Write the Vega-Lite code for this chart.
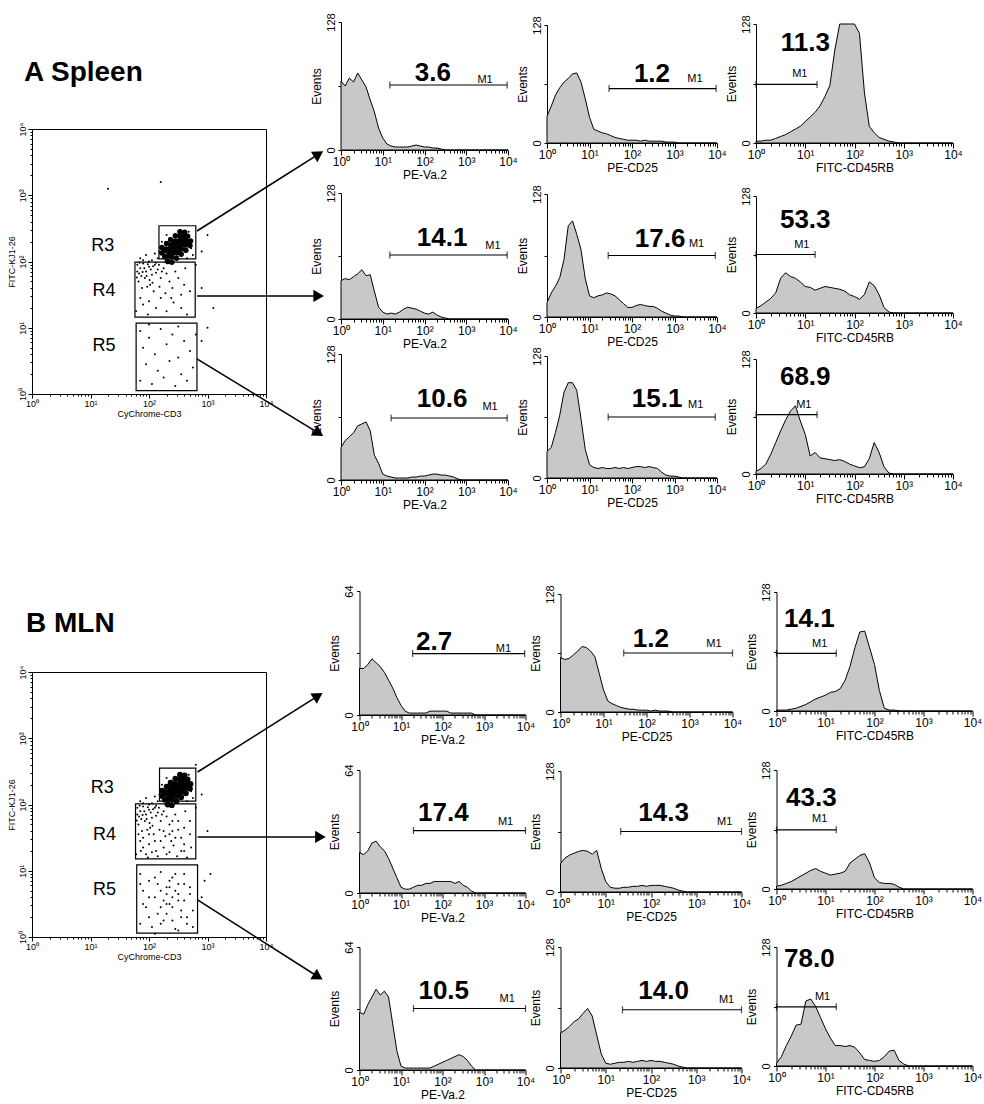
{
"$schema":"https://vega.github.io/schema/vega-lite/v6.json",
"background":"white",
"padding":{"left":6,"top":12,"right":0,"bottom":0},
"config":{"view":{"stroke":null},"font":"Liberation Sans","mark":{"color":"black"},
"axis":{"grid":false,"domainColor":"black","tickColor":"black","labelColor":"black","titleColor":"black","labelFont":"Liberation Sans","titleFont":"Liberation Sans","titleFontWeight":"normal","labelFlush":false,"domainWidth":1,"tickWidth":1},
"text":{"font":"Liberation Sans","color":"black"},"title":{"font":"Liberation Sans","color":"black"}},
"datasets":{
"hist":[
{"panel":"A11","lx":[0,0.1,0.2,0.3,0.4,0.5,0.6,0.7,0.8,0.9,1,1.1,1.2,1.3,1.4,1.5,1.6,1.7,1.8,1.9,2,2.1,2.2,2.3,2.4,2.5,2.6,2.7,2.8,2.9,3,3.1,3.2,3.3,3.4,3.5,3.6,3.7,3.8,3.9,4],"n":[69,64,72,68,77,70,63,50,38,22,12,6,4,3,3,3,3,4,5,4,3,3,2,2,1,0,0,0,0,0,0,0,0,0,0,0,0,0,0,0,0]},
{"panel":"A12","lx":[0,0.1,0.2,0.3,0.4,0.5,0.6,0.7,0.8,0.9,1,1.1,1.2,1.3,1.4,1.5,1.6,1.7,1.8,1.9,2,2.1,2.2,2.3,2.4,2.5,2.6,2.7,2.8,2.9,3,3.1,3.2,3.3,3.4,3.5,3.6,3.7,3.8,3.9,4],"n":[29,40,52,60,66,70,75,76,66,48,28,15,13,11,10,8,6,5,4,3,3,3,2,3,2,2,2,2,1,1,1,0,0,0,0,0,0,0,0,0,0]},
{"panel":"A13","lx":[0,0.1,0.2,0.3,0.4,0.5,0.6,0.7,0.8,0.9,1,1.1,1.2,1.3,1.4,1.5,1.6,1.7,1.8,1.9,2,2.1,2.2,2.3,2.4,2.5,2.6,2.7,2.8,2.9,3,3.1,3.2,3.3,3.4,3.5,3.6,3.7,3.8,3.9,4],"n":[2,2,3,3,5,7,9,12,15,18,23,28,33,40,50,62,100,128,128,128,128,118,55,18,11,6,4,2,1,0,0,0,0,0,0,0,0,0,0,0,0]},
{"panel":"A21","lx":[0,0.1,0.2,0.3,0.4,0.5,0.6,0.7,0.8,0.9,1,1.1,1.2,1.3,1.4,1.5,1.6,1.7,1.8,1.9,2,2.1,2.2,2.3,2.4,2.5,2.6,2.7,2.8,2.9,3,3.1,3.2,3.3,3.4,3.5,3.6,3.7,3.8,3.9,4],"n":[39,41,40,43,46,50,44,45,28,12,7,5,6,5,7,10,12,11,10,8,6,5,7,4,2,1,0,0,0,0,0,0,0,0,0,0,0,0,0,0,0]},
{"panel":"A22","lx":[0,0.1,0.2,0.3,0.4,0.5,0.6,0.7,0.8,0.9,1,1.1,1.2,1.3,1.4,1.5,1.6,1.7,1.8,1.9,2,2.1,2.2,2.3,2.4,2.5,2.6,2.7,2.8,2.9,3,3.1,3.2,3.3,3.4,3.5,3.6,3.7,3.8,3.9,4],"n":[15,25,32,41,60,95,100,86,70,40,22,20,22,23,25,24,22,18,14,10,10,12,13,12,11,11,9,6,4,2,1,1,0,0,0,0,0,0,0,0,0]},
{"panel":"A23","lx":[0,0.1,0.2,0.3,0.4,0.5,0.6,0.7,0.8,0.9,1,1.1,1.2,1.3,1.4,1.5,1.6,1.7,1.8,1.9,2,2.1,2.2,2.3,2.4,2.5,2.6,2.7,2.8,2.9,3,3.1,3.2,3.3,3.4,3.5,3.6,3.7,3.8,3.9,4],"n":[5,8,12,16,22,38,44,40,38,34,29,28,25,27,29,28,27,26,24,20,18,15,20,34,30,20,6,1,0,0,0,0,0,0,0,0,0,0,0,0,0]},
{"panel":"A31","lx":[0,0.1,0.2,0.3,0.4,0.5,0.6,0.7,0.8,0.9,1,1.1,1.2,1.3,1.4,1.5,1.6,1.7,1.8,1.9,2,2.1,2.2,2.3,2.4,2.5,2.6,2.7,2.8,2.9,3,3.1,3.2,3.3,3.4,3.5,3.6,3.7,3.8,3.9,4],"n":[33,40,44,48,55,57,59,50,25,17,6,4,3,2,2,2,2,3,3,4,4,5,6,6,5,5,4,3,1,0,0,0,0,0,0,0,0,0,0,0,0]},
{"panel":"A32","lx":[0,0.1,0.2,0.3,0.4,0.5,0.6,0.7,0.8,0.9,1,1.1,1.2,1.3,1.4,1.5,1.6,1.7,1.8,1.9,2,2.1,2.2,2.3,2.4,2.5,2.6,2.7,2.8,2.9,3,3.1,3.2,3.3,3.4,3.5,3.6,3.7,3.8,3.9,4],"n":[28,32,48,66,90,100,100,92,62,30,14,11,10,11,10,10,11,10,11,10,11,12,12,11,12,11,10,6,3,2,2,1,0,0,0,0,0,0,0,0,0]},
{"panel":"A33","lx":[0,0.1,0.2,0.3,0.4,0.5,0.6,0.7,0.8,0.9,1,1.1,1.2,1.3,1.4,1.5,1.6,1.7,1.8,1.9,2,2.1,2.2,2.3,2.4,2.5,2.6,2.7,2.8,2.9,3,3.1,3.2,3.3,3.4,3.5,3.6,3.7,3.8,3.9,4],"n":[3,6,11,22,35,48,60,70,76,59,44,20,24,18,17,16,15,16,14,11,9,7,8,17,35,24,8,1,0,0,0,0,0,0,0,0,0,0,0,0,0]},
{"panel":"B11","lx":[0,0.1,0.2,0.3,0.4,0.5,0.6,0.7,0.8,0.9,1,1.1,1.2,1.3,1.4,1.5,1.6,1.7,1.8,1.9,2,2.1,2.2,2.3,2.4,2.5,2.6,2.7,2.8,2.9,3,3.1,3.2,3.3,3.4,3.5,3.6,3.7,3.8,3.9,4],"n":[24,24,26,29,27,25,22,18,14,9,5,2,1,1,1,1,1,2,2,2,2,2,1,1,1,1,1,1,0,0,0,0,0,0,0,0,0,0,0,0,0]},
{"panel":"B12","lx":[0,0.1,0.2,0.3,0.4,0.5,0.6,0.7,0.8,0.9,1,1.1,1.2,1.3,1.4,1.5,1.6,1.7,1.8,1.9,2,2.1,2.2,2.3,2.4,2.5,2.6,2.7,2.8,2.9,3,3.1,3.2,3.3,3.4,3.5,3.6,3.7,3.8,3.9,4],"n":[59,57,58,62,66,71,70,66,60,42,24,12,9,7,5,4,3,3,2,2,2,1,2,1,1,1,0,0,0,0,0,0,0,0,0,0,0,0,0,0,0]},
{"panel":"B13","lx":[0,0.1,0.2,0.3,0.4,0.5,0.6,0.7,0.8,0.9,1,1.1,1.2,1.3,1.4,1.5,1.6,1.7,1.8,1.9,2,2.1,2.2,2.3,2.4,2.5,2.6,2.7,2.8,2.9,3,3.1,3.2,3.3,3.4,3.5,3.6,3.7,3.8,3.9,4],"n":[1,1,1,2,3,5,7,10,13,15,17,20,21,24,33,48,68,85,86,68,50,22,3,1,1,0,0,0,0,0,0,0,0,0,0,0,0,0,0,0,0]},
{"panel":"B21","lx":[0,0.1,0.2,0.3,0.4,0.5,0.6,0.7,0.8,0.9,1,1.1,1.2,1.3,1.4,1.5,1.6,1.7,1.8,1.9,2,2.1,2.2,2.3,2.4,2.5,2.6,2.7,2.8,2.9,3,3.1,3.2,3.3,3.4,3.5,3.6,3.7,3.8,3.9,4],"n":[21,20,22,26,27,24,22,18,13,8,3,2,2,3,4,4,5,5,6,6,6,6,6,5,6,4,3,1,0,0,0,0,0,0,0,0,0,0,0,0,0]},
{"panel":"B22","lx":[0,0.1,0.2,0.3,0.4,0.5,0.6,0.7,0.8,0.9,1,1.1,1.2,1.3,1.4,1.5,1.6,1.7,1.8,1.9,2,2.1,2.2,2.3,2.4,2.5,2.6,2.7,2.8,2.9,3,3.1,3.2,3.3,3.4,3.5,3.6,3.7,3.8,3.9,4],"n":[30,36,39,41,43,44,43,40,44,25,11,5,4,4,5,5,6,6,7,6,7,7,7,6,5,4,2,1,0,0,0,0,0,0,0,0,0,0,0,0,0]},
{"panel":"B23","lx":[0,0.1,0.2,0.3,0.4,0.5,0.6,0.7,0.8,0.9,1,1.1,1.2,1.3,1.4,1.5,1.6,1.7,1.8,1.9,2,2.1,2.2,2.3,2.4,2.5,2.6,2.7,2.8,2.9,3,3.1,3.2,3.3,3.4,3.5,3.6,3.7,3.8,3.9,4],"n":[3,4,6,8,11,14,17,20,22,19,17,15,16,17,19,28,32,36,38,28,12,7,6,6,5,2,0,0,0,0,0,0,0,0,0,0,0,0,0,0,0]},
{"panel":"B31","lx":[0,0.1,0.2,0.3,0.4,0.5,0.6,0.7,0.8,0.9,1,1.1,1.2,1.3,1.4,1.5,1.6,1.7,1.8,1.9,2,2.1,2.2,2.3,2.4,2.5,2.6,2.7,2.8,2.9,3,3.1,3.2,3.3,3.4,3.5,3.6,3.7,3.8,3.9,4],"n":[30,29,34,38,42,39,41,38,24,10,2,1,1,1,1,1,1,1,2,3,4,5,6,7,8,7,5,2,0,0,0,0,0,0,0,0,0,0,0,0,0]},
{"panel":"B32","lx":[0,0.1,0.2,0.3,0.4,0.5,0.6,0.7,0.8,0.9,1,1.1,1.2,1.3,1.4,1.5,1.6,1.7,1.8,1.9,2,2.1,2.2,2.3,2.4,2.5,2.6,2.7,2.8,2.9,3,3.1,3.2,3.3,3.4,3.5,3.6,3.7,3.8,3.9,4],"n":[37,40,44,49,52,58,63,55,35,15,5,4,5,6,6,7,6,7,8,7,8,7,7,6,5,4,2,1,0,0,0,0,0,0,0,0,0,0,0,0,0]},
{"panel":"B33","lx":[0,0.1,0.2,0.3,0.4,0.5,0.6,0.7,0.8,0.9,1,1.1,1.2,1.3,1.4,1.5,1.6,1.7,1.8,1.9,2,2.1,2.2,2.3,2.4,2.5,2.6,2.7,2.8,2.9,3,3.1,3.2,3.3,3.4,3.5,3.6,3.7,3.8,3.9,4],"n":[3,10,22,32,44,45,70,72,64,52,40,30,22,22,21,22,20,14,7,6,5,6,10,16,17,6,2,0,0,0,0,0,0,0,0,0,0,0,0,0,0]}
],
"gates":[
{"panel":"A11","x1":1.17,"x2":3.98,"y":65,"pct":"3.6","numX":2.2,"numY":69,"m1X":3.45,"m1Y":67},
{"panel":"A12","x1":1.46,"x2":3.98,"y":59,"pct":"1.2","numX":2.47,"numY":66,"m1X":3.48,"m1Y":66},
{"panel":"A13","x1":0,"x2":1.24,"y":63,"pct":"11.3","numX":1.0,"numY":99,"m1X":0.89,"m1Y":71},
{"panel":"A21","x1":1.17,"x2":3.98,"y":65,"pct":"14.1","numX":2.42,"numY":74,"m1X":3.64,"m1Y":71},
{"panel":"A22","x1":1.44,"x2":3.96,"y":64,"pct":"17.6","numX":2.66,"numY":73,"m1X":3.52,"m1Y":73},
{"panel":"A23","x1":0,"x2":1.2,"y":64,"pct":"53.3","numX":1.0,"numY":93,"m1X":0.93,"m1Y":71},
{"panel":"A31","x1":1.2,"x2":3.98,"y":63,"pct":"10.6","numX":2.42,"numY":74,"m1X":3.57,"m1Y":71},
{"panel":"A32","x1":1.44,"x2":3.96,"y":64,"pct":"15.1","numX":2.59,"numY":74,"m1X":3.5,"m1Y":73},
{"panel":"A33","x1":0,"x2":1.24,"y":66,"pct":"68.9","numX":1.0,"numY":99,"m1X":0.97,"m1Y":74},
{"panel":"B11","x1":1.28,"x2":3.98,"y":31.7,"pct":"2.7","numX":1.8,"numY":33.4,"m1X":3.47,"m1Y":32.6},
{"panel":"B12","x1":1.47,"x2":4,"y":64,"pct":"1.2","numX":2.1,"numY":70,"m1X":3.57,"m1Y":70},
{"panel":"B13","x1":0,"x2":1.22,"y":62,"pct":"14.1","numX":0.67,"numY":90,"m1X":0.88,"m1Y":69},
{"panel":"B21","x1":1.3,"x2":4,"y":32.5,"pct":"17.4","numX":2.02,"numY":37.5,"m1X":3.52,"m1Y":35.5},
{"panel":"B22","x1":1.33,"x2":4,"y":64,"pct":"14.3","numX":2.28,"numY":75,"m1X":3.63,"m1Y":71},
{"panel":"B23","x1":0,"x2":1.22,"y":63.6,"pct":"43.3","numX":0.71,"numY":89,"m1X":0.88,"m1Y":72},
{"panel":"B31","x1":1.3,"x2":4,"y":32,"pct":"10.5","numX":2.03,"numY":37,"m1X":3.56,"m1Y":35.5},
{"panel":"B32","x1":1.37,"x2":4,"y":61.6,"pct":"14.0","numX":2.28,"numY":73,"m1X":3.67,"m1Y":69},
{"panel":"B33","x1":0,"x2":1.22,"y":63.6,"pct":"78.0","numX":0.67,"numY":106,"m1X":0.94,"m1Y":71}
],
"core":[{"lx":2.32,"ly":2.0},{"lx":2.27,"ly":2.07},{"lx":2.22,"ly":2.13},{"lx":2.39,"ly":2.07},{"lx":2.34,"ly":2.13},{"lx":2.29,"ly":2.19},{"lx":2.47,"ly":2.13},{"lx":2.42,"ly":2.19},{"lx":2.37,"ly":2.25},{"lx":2.55,"ly":2.19},{"lx":2.5,"ly":2.25},{"lx":2.45,"ly":2.31},{"lx":2.63,"ly":2.25},{"lx":2.58,"ly":2.31},{"lx":2.53,"ly":2.38},{"lx":2.71,"ly":2.31},{"lx":2.66,"ly":2.38},{"lx":2.61,"ly":2.44},{"lx":2.41,"ly":2.13},{"lx":2.36,"ly":2.19},{"lx":2.49,"ly":2.19},{"lx":2.44,"ly":2.25},{"lx":2.56,"ly":2.25},{"lx":2.51,"ly":2.31},{"lx":2.64,"ly":2.31},{"lx":2.59,"ly":2.38},{"lx":2.46,"ly":2.22},{"lx":2.54,"ly":2.28},{"lx":2.38,"ly":2.16},{"lx":2.62,"ly":2.34},{"lx":2.22,"ly":2.21},{"lx":2.39,"ly":1.99},{"lx":2.3,"ly":2.27},{"lx":2.47,"ly":2.05},{"lx":2.37,"ly":2.33},{"lx":2.55,"ly":2.11},{"lx":2.45,"ly":2.39},{"lx":2.63,"ly":2.17},{"lx":2.53,"ly":2.45},{"lx":2.7,"ly":2.24},{"lx":2.26,"ly":2.16},{"lx":2.33,"ly":2.09},{"lx":2.42,"ly":2.3},{"lx":2.5,"ly":2.16},{"lx":2.57,"ly":2.37},{"lx":2.67,"ly":2.29},{"lx":2.4,"ly":2.24},{"lx":2.52,"ly":2.21}],
"dotsA":[{"lx":1.8,"ly":1.95},{"lx":1.85,"ly":1.9},{"lx":1.9,"ly":1.97},{"lx":1.95,"ly":1.85},{"lx":2.0,"ly":1.92},{"lx":2.05,"ly":1.8},{"lx":2.1,"ly":1.95},{"lx":2.15,"ly":1.88},{"lx":2.2,"ly":1.75},{"lx":1.82,"ly":1.7},{"lx":1.88,"ly":1.6},{"lx":1.93,"ly":1.75},{"lx":2.02,"ly":1.65},{"lx":2.08,"ly":1.55},{"lx":2.25,"ly":1.9},{"lx":2.3,"ly":1.82},{"lx":2.35,"ly":1.7},{"lx":2.4,"ly":1.6},{"lx":2.45,"ly":1.85},{"lx":2.5,"ly":1.75},{"lx":2.55,"ly":1.5},{"lx":2.6,"ly":1.65},{"lx":1.85,"ly":1.45},{"lx":1.9,"ly":1.35},{"lx":2.0,"ly":1.4},{"lx":2.12,"ly":1.3},{"lx":2.2,"ly":1.45},{"lx":2.3,"ly":1.25},{"lx":2.42,"ly":1.38},{"lx":2.55,"ly":1.3},{"lx":2.65,"ly":1.2},{"lx":1.78,"ly":1.25},{"lx":1.98,"ly":1.2},{"lx":2.7,"ly":1.55},{"lx":2.62,"ly":1.9},{"lx":1.83,"ly":1.82},{"lx":1.97,"ly":1.62},{"lx":2.18,"ly":1.62},{"lx":2.28,"ly":1.52},{"lx":2.38,"ly":1.45},{"lx":1.8,"ly":1.85},{"lx":1.87,"ly":1.78},{"lx":1.92,"ly":1.9},{"lx":1.98,"ly":1.96},{"lx":2.03,"ly":1.88},{"lx":2.07,"ly":1.93},{"lx":2.12,"ly":1.83},{"lx":2.17,"ly":1.95},{"lx":2.22,"ly":1.85},{"lx":1.84,"ly":1.98},{"lx":1.89,"ly":1.84},{"lx":1.96,"ly":1.78},{"lx":2.01,"ly":1.72},{"lx":2.06,"ly":1.68},{"lx":1.79,"ly":1.76},{"lx":1.85,"ly":2.05},{"lx":1.95,"ly":2.1},{"lx":2.05,"ly":2.02},{"lx":2.1,"ly":2.12},{"lx":2.0,"ly":2.0},{"lx":2.15,"ly":2.05},{"lx":1.9,"ly":2.02},{"lx":2.6,"ly":2.2},{"lx":2.65,"ly":2.05},{"lx":2.7,"ly":2.3},{"lx":2.75,"ly":2.1},{"lx":2.22,"ly":2.3},{"lx":2.3,"ly":2.4},{"lx":2.8,"ly":1.95},{"lx":2.9,"ly":2.15},{"lx":2.18,"ly":2.15},{"lx":2.25,"ly":2.22},{"lx":2.35,"ly":2.35},{"lx":2.5,"ly":2.45},{"lx":2.68,"ly":2.45},{"lx":2.72,"ly":2.2},{"lx":2.55,"ly":2.1},{"lx":2.4,"ly":2.05},{"lx":2.28,"ly":2.0},{"lx":2.12,"ly":1.98},{"lx":1.85,"ly":0.95},{"lx":2.0,"ly":0.85},{"lx":2.2,"ly":0.98},{"lx":2.4,"ly":0.9},{"lx":2.6,"ly":0.8},{"lx":1.9,"ly":0.7},{"lx":2.1,"ly":0.6},{"lx":2.3,"ly":0.75},{"lx":2.5,"ly":0.55},{"lx":2.7,"ly":0.65},{"lx":1.95,"ly":0.45},{"lx":2.15,"ly":0.35},{"lx":2.35,"ly":0.5},{"lx":2.55,"ly":0.3},{"lx":2.75,"ly":0.4},{"lx":1.85,"ly":0.2},{"lx":2.05,"ly":0.15},{"lx":2.25,"ly":0.25},{"lx":2.45,"ly":0.12},{"lx":2.65,"ly":0.2},{"lx":2.8,"ly":0.9},{"lx":2.9,"ly":0.8},{"lx":3.0,"ly":1.0},{"lx":2.0,"ly":1.05},{"lx":2.5,"ly":1.02},{"lx":2.2,"ly":3.2},{"lx":1.3,"ly":3.1},{"lx":2.9,"ly":1.6},{"lx":3.0,"ly":2.4},{"lx":3.1,"ly":1.3}],
"dotsB":[{"lx":1.8,"ly":1.95},{"lx":1.85,"ly":1.9},{"lx":1.9,"ly":1.97},{"lx":1.95,"ly":1.85},{"lx":2.0,"ly":1.92},{"lx":2.05,"ly":1.8},{"lx":2.1,"ly":1.95},{"lx":2.15,"ly":1.88},{"lx":2.2,"ly":1.75},{"lx":1.82,"ly":1.7},{"lx":1.88,"ly":1.6},{"lx":1.93,"ly":1.75},{"lx":2.02,"ly":1.65},{"lx":2.08,"ly":1.55},{"lx":2.25,"ly":1.9},{"lx":2.3,"ly":1.82},{"lx":2.35,"ly":1.7},{"lx":2.4,"ly":1.6},{"lx":2.45,"ly":1.85},{"lx":2.5,"ly":1.75},{"lx":2.55,"ly":1.5},{"lx":2.6,"ly":1.65},{"lx":1.85,"ly":1.45},{"lx":1.9,"ly":1.35},{"lx":2.0,"ly":1.4},{"lx":2.12,"ly":1.3},{"lx":2.2,"ly":1.45},{"lx":2.3,"ly":1.25},{"lx":2.42,"ly":1.38},{"lx":2.55,"ly":1.3},{"lx":2.65,"ly":1.2},{"lx":1.78,"ly":1.25},{"lx":1.98,"ly":1.2},{"lx":2.7,"ly":1.55},{"lx":2.62,"ly":1.9},{"lx":1.83,"ly":1.82},{"lx":1.97,"ly":1.62},{"lx":2.18,"ly":1.62},{"lx":2.28,"ly":1.52},{"lx":2.38,"ly":1.45},{"lx":1.8,"ly":1.85},{"lx":1.87,"ly":1.78},{"lx":1.92,"ly":1.9},{"lx":1.98,"ly":1.96},{"lx":2.03,"ly":1.88},{"lx":2.07,"ly":1.93},{"lx":2.12,"ly":1.83},{"lx":2.17,"ly":1.95},{"lx":2.22,"ly":1.85},{"lx":1.84,"ly":1.98},{"lx":1.89,"ly":1.84},{"lx":1.96,"ly":1.78},{"lx":2.01,"ly":1.72},{"lx":2.06,"ly":1.68},{"lx":1.79,"ly":1.76},{"lx":1.82,"ly":1.55},{"lx":1.9,"ly":1.5},{"lx":2.0,"ly":1.55},{"lx":2.1,"ly":1.45},{"lx":2.25,"ly":1.6},{"lx":2.35,"ly":1.55},{"lx":2.45,"ly":1.5},{"lx":2.5,"ly":1.62},{"lx":2.6,"ly":1.4},{"lx":2.7,"ly":1.75},{"lx":1.86,"ly":1.3},{"lx":2.05,"ly":1.28},{"lx":2.15,"ly":1.22},{"lx":2.25,"ly":1.35},{"lx":2.35,"ly":1.28},{"lx":2.48,"ly":1.22},{"lx":2.6,"ly":1.3},{"lx":2.72,"ly":1.35},{"lx":1.95,"ly":1.25},{"lx":2.4,"ly":1.75},{"lx":1.85,"ly":2.05},{"lx":1.95,"ly":2.1},{"lx":2.05,"ly":2.02},{"lx":2.1,"ly":2.12},{"lx":2.0,"ly":2.0},{"lx":2.15,"ly":2.05},{"lx":1.9,"ly":2.02},{"lx":2.6,"ly":2.2},{"lx":2.65,"ly":2.05},{"lx":2.7,"ly":2.3},{"lx":2.75,"ly":2.1},{"lx":2.22,"ly":2.3},{"lx":2.3,"ly":2.4},{"lx":2.8,"ly":1.95},{"lx":2.9,"ly":2.15},{"lx":2.18,"ly":2.15},{"lx":2.25,"ly":2.22},{"lx":2.35,"ly":2.35},{"lx":2.5,"ly":2.45},{"lx":2.68,"ly":2.45},{"lx":2.72,"ly":2.2},{"lx":2.55,"ly":2.1},{"lx":2.4,"ly":2.05},{"lx":2.28,"ly":2.0},{"lx":2.12,"ly":1.98},{"lx":1.85,"ly":0.95},{"lx":2.0,"ly":0.85},{"lx":2.2,"ly":0.98},{"lx":2.4,"ly":0.9},{"lx":2.6,"ly":0.8},{"lx":1.9,"ly":0.7},{"lx":2.1,"ly":0.6},{"lx":2.3,"ly":0.75},{"lx":2.5,"ly":0.55},{"lx":2.7,"ly":0.65},{"lx":1.95,"ly":0.45},{"lx":2.15,"ly":0.35},{"lx":2.35,"ly":0.5},{"lx":2.55,"ly":0.3},{"lx":2.75,"ly":0.4},{"lx":1.85,"ly":0.2},{"lx":2.05,"ly":0.15},{"lx":2.25,"ly":0.25},{"lx":2.45,"ly":0.12},{"lx":2.65,"ly":0.2},{"lx":2.2,"ly":0.7},{"lx":2.3,"ly":0.65},{"lx":2.4,"ly":0.6},{"lx":2.35,"ly":0.75},{"lx":2.25,"ly":0.55},{"lx":2.45,"ly":0.7},{"lx":2.3,"ly":0.5},{"lx":2.2,"ly":0.45},{"lx":2.4,"ly":0.45},{"lx":2.5,"ly":0.65},{"lx":2.15,"ly":0.8},{"lx":2.35,"ly":0.85},{"lx":2.5,"ly":0.8},{"lx":2.6,"ly":0.55},{"lx":2.3,"ly":0.35},{"lx":2.1,"ly":0.9},{"lx":2.45,"ly":0.95},{"lx":2.6,"ly":0.95},{"lx":2.0,"ly":0.6},{"lx":1.9,"ly":0.5},{"lx":2.7,"ly":0.75},{"lx":2.55,"ly":0.4},{"lx":2.4,"ly":0.25},{"lx":2.2,"ly":0.2},{"lx":2.0,"ly":0.3},{"lx":1.85,"ly":0.8},{"lx":2.65,"ly":0.3},{"lx":2.75,"ly":0.15},{"lx":2.1,"ly":0.05},{"lx":2.5,"ly":0.1},{"lx":2.95,"ly":0.85},{"lx":3.05,"ly":0.95},{"lx":2.9,"ly":0.6},{"lx":2.8,"ly":2.6},{"lx":3.0,"ly":1.6}],
"gatesA":[{"g":"R3","x1":2.17,"x2":2.8,"y1":2.04,"y2":2.54,"lx":1.21,"ly":2.23,"ax0":2.82,"ay0":2.46,"ax1":4.9,"ay1":3.62},{"g":"R4","x1":1.76,"x2":2.79,"y1":1.16,"y2":1.99,"lx":1.23,"ly":1.55,"ax0":2.82,"ay0":1.48,"ax1":4.9,"ay1":1.48},{"g":"R5","x1":1.78,"x2":2.82,"y1":0.05,"y2":1.07,"lx":1.23,"ly":0.72,"ax0":2.82,"ay0":0.53,"ax1":4.9,"ay1":-0.59}],
"gatesB":[{"g":"R3","x1":2.18,"x2":2.8,"y1":2.05,"y2":2.55,"lx":1.2,"ly":2.25,"ax0":2.83,"ay0":2.49,"ax1":4.89,"ay1":3.64},{"g":"R4","x1":1.77,"x2":2.8,"y1":1.18,"y2":2.01,"lx":1.24,"ly":1.54,"ax0":2.83,"ay0":1.51,"ax1":4.93,"ay1":1.51},{"g":"R5","x1":1.79,"x2":2.83,"y1":0.06,"y2":1.09,"lx":1.24,"ly":0.71,"ax0":2.83,"ay0":0.56,"ax1":4.89,"ay1":-0.6}]
},
"spacing":72,
"vconcat":[
{"spacing":-15,"hconcat":[
 {"bounds":"flush","spacing":0,"vconcat":[
  {"width":10,"height":107,"data":{"values":[]},"mark":"point"},
  {"width":234,"height":265,"view":{"stroke":"black","strokeWidth":1},
   "title":{"text":"A  Spleen","anchor":"start","frame":"group","fontSize":28,"fontWeight":"bold","offset":13,"dx":-8,"baseline":"alphabetic"},
   "resolve":{"axis":{"x":"independent","y":"independent"}},
   "layer":[
    {"data":{"name":"dotsA"},"mark":{"type":"point","filled":true,"size":4,"opacity":1,"strokeWidth":0,"color":"black"},"encoding":{"x":{"field":"lx","type":"quantitative","scale":{"domain":[0,4],"nice":false},"axis":{"orient":"bottom","title":"CyChrome-CD3","values":[0,1,2,3,4],"labelExpr":"'10' + (datum.value == 0 ? '⁰' : datum.value == 1 ? '¹' : datum.value == 2 ? '²' : datum.value == 3 ? '³' : '⁴')","labelOverlap":false,"labelFlush":false,"tickSize":4,"labelFontSize":9,"titleFontSize":9,"labelPadding":1,"titlePadding":1}},"y":{"field":"ly","type":"quantitative","scale":{"domain":[0,4],"nice":false},"axis":{"orient":"left","title":"FITC-KJ1-26","values":[0,1,2,3,4],"labelExpr":"'10' + (datum.value == 0 ? '⁰' : datum.value == 1 ? '¹' : datum.value == 2 ? '²' : datum.value == 3 ? '³' : '⁴')","labelOverlap":false,"labelFlush":false,"tickSize":4,"labelAngle":270,"labelAlign":"center","labelBaseline":"bottom","labelFontSize":9,"titleFontSize":9,"labelPadding":1,"titlePadding":2}}}},
    {"data":{"values":[{"lx":0,"ly":0}]},"mark":{"type":"point","opacity":0},"encoding":{"x":{"field":"lx","type":"quantitative","axis":{"orient":"bottom","values":[0.301,0.477,0.602,0.699,0.778,0.845,0.903,0.954,1.301,1.477,1.602,1.699,1.778,1.845,1.903,1.954,2.301,2.477,2.602,2.699,2.778,2.845,2.903,2.954,3.301,3.477,3.602,3.699,3.778,3.845,3.903,3.954],"labels":false,"domain":false,"title":null,"tickSize":2}},"y":{"field":"ly","type":"quantitative","axis":{"orient":"left","values":[0.301,0.477,0.602,0.699,0.778,0.845,0.903,0.954,1.301,1.477,1.602,1.699,1.778,1.845,1.903,1.954,2.301,2.477,2.602,2.699,2.778,2.845,2.903,2.954,3.301,3.477,3.602,3.699,3.778,3.845,3.903,3.954],"labels":false,"domain":false,"title":null,"tickSize":2}}}},
    {"data":{"name":"core"},"mark":{"type":"point","filled":true,"size":30,"opacity":1,"strokeWidth":0,"color":"black"},"encoding":{"x":{"field":"lx","type":"quantitative","axis":null},"y":{"field":"ly","type":"quantitative","axis":null}}},
    {"data":{"name":"gatesA"},"layer":[
     {"mark":{"type":"rect","filled":false,"stroke":"black","strokeWidth":1.2},"encoding":{"x":{"field":"x1","type":"quantitative","axis":null},"x2":{"field":"x2"},"y":{"field":"y1","type":"quantitative","axis":null},"y2":{"field":"y2"}}},
     {"mark":{"type":"text","fontSize":18,"baseline":"middle","color":"black"},"encoding":{"x":{"field":"lx","type":"quantitative","axis":null},"y":{"field":"ly","type":"quantitative","axis":null},"text":{"field":"g","type":"nominal"}}},
     {"mark":{"type":"rule","strokeWidth":1.6,"clip":false,"color":"black"},"encoding":{"x":{"field":"ax0","type":"quantitative","axis":null},"y":{"field":"ay0","type":"quantitative","axis":null},"x2":{"field":"ax1"},"y2":{"field":"ay1"}}},
     {"transform":[{"filter":"datum.g === 'R3'"}],"mark":{"type":"point","shape":"triangle-right","filled":true,"size":150,"angle":328,"opacity":1,"clip":false,"color":"black"},"encoding":{"x":{"field":"ax1","type":"quantitative","axis":null},"y":{"field":"ay1","type":"quantitative","axis":null}}},
     {"transform":[{"filter":"datum.g === 'R4'"}],"mark":{"type":"point","shape":"triangle-right","filled":true,"size":150,"angle":0,"opacity":1,"clip":false,"color":"black"},"encoding":{"x":{"field":"ax1","type":"quantitative","axis":null},"y":{"field":"ay1","type":"quantitative","axis":null}}},
     {"transform":[{"filter":"datum.g === 'R5'"}],"mark":{"type":"point","shape":"triangle-right","filled":true,"size":150,"angle":32,"opacity":1,"clip":false,"color":"black"},"encoding":{"x":{"field":"ax1","type":"quantitative","axis":null},"y":{"field":"ay1","type":"quantitative","axis":null}}}
    ]}
   ]}
 ]},
 {"spacing":-2,"hconcat":[
  {"bounds":"flush","spacing":0,"vconcat":[
   {"width":167,"height":128,"resolve":{"axis":{"x":"independent"}},"layer":[{"data":{"name":"hist"},"transform":[{"filter":"datum.panel === 'A11'"},{"flatten":["lx","n"]}],"mark":{"type":"area","fill":"#c8c8c8","stroke":"black","strokeWidth":1},"encoding":{"x":{"field":"lx","type":"quantitative","scale":{"domain":[0,4],"nice":false},"axis":{"orient":"bottom","title":"PE-Va.2","values":[0,1,2,3,4],"labelExpr":"'10' + (datum.value == 0 ? '⁰' : datum.value == 1 ? '¹' : datum.value == 2 ? '²' : datum.value == 3 ? '³' : '⁴')","labelOverlap":false,"labelFlush":false,"tickSize":5,"labelFontSize":12,"titleFontSize":12,"labelPadding":1,"titlePadding":2}},"y":{"field":"n","type":"quantitative","scale":{"domain":[0,128],"nice":false},"axis":{"title":"Events","values":[0,32,64,96,128],"labelExpr":"datum.value === 0 || datum.value === 128 ? datum.label : ''","labelAngle":270,"labelAlign":"center","labelBaseline":"bottom","labelFontSize":11,"titleFontSize":12,"labelPadding":2,"titlePadding":2,"tickSize":3}}}},{"data":{"values":[{"lx":0}]},"mark":{"type":"point","opacity":0},"encoding":{"x":{"field":"lx","type":"quantitative","axis":{"orient":"bottom","values":[0.301,0.477,0.602,0.699,0.778,0.845,0.903,0.954,1.301,1.477,1.602,1.699,1.778,1.845,1.903,1.954,2.301,2.477,2.602,2.699,2.778,2.845,2.903,2.954,3.301,3.477,3.602,3.699,3.778,3.845,3.903,3.954],"labels":false,"domain":false,"title":null,"tickSize":3}}}},{"data":{"name":"gates"},"transform":[{"filter":"datum.panel === 'A11'"}],"layer":[{"mark":{"type":"rule","strokeWidth":1.2,"color":"black"},"encoding":{"x":{"field":"x1","type":"quantitative","axis":null},"x2":{"field":"x2"},"y":{"field":"y","type":"quantitative"}}},{"mark":{"type":"tick","orient":"vertical","size":7,"thickness":1.2,"color":"black"},"encoding":{"x":{"field":"x1","type":"quantitative","axis":null},"y":{"field":"y","type":"quantitative"}}},{"mark":{"type":"tick","orient":"vertical","size":7,"thickness":1.2,"color":"black"},"encoding":{"x":{"field":"x2","type":"quantitative","axis":null},"y":{"field":"y","type":"quantitative"}}},{"mark":{"type":"text","fontSize":26,"fontWeight":"bold","baseline":"alphabetic","color":"black"},"encoding":{"x":{"field":"numX","type":"quantitative","axis":null},"y":{"field":"numY","type":"quantitative"},"text":{"field":"pct","type":"nominal"}}},{"mark":{"type":"text","fontSize":11,"baseline":"alphabetic","color":"black"},"encoding":{"x":{"field":"m1X","type":"quantitative","axis":null},"y":{"field":"m1Y","type":"quantitative"},"text":{"value":"M1"}}}]}]},
   {"width":10,"height":43,"data":{"values":[]},"mark":"point"},
   {"width":167,"height":126,"resolve":{"axis":{"x":"independent"}},"layer":[{"data":{"name":"hist"},"transform":[{"filter":"datum.panel === 'A21'"},{"flatten":["lx","n"]}],"mark":{"type":"area","fill":"#c8c8c8","stroke":"black","strokeWidth":1},"encoding":{"x":{"field":"lx","type":"quantitative","scale":{"domain":[0,4],"nice":false},"axis":{"orient":"bottom","title":"PE-Va.2","values":[0,1,2,3,4],"labelExpr":"'10' + (datum.value == 0 ? '⁰' : datum.value == 1 ? '¹' : datum.value == 2 ? '²' : datum.value == 3 ? '³' : '⁴')","labelOverlap":false,"labelFlush":false,"tickSize":5,"labelFontSize":12,"titleFontSize":12,"labelPadding":1,"titlePadding":2}},"y":{"field":"n","type":"quantitative","scale":{"domain":[0,128],"nice":false},"axis":{"title":"Events","values":[0,32,64,96,128],"labelExpr":"datum.value === 0 || datum.value === 128 ? datum.label : ''","labelAngle":270,"labelAlign":"center","labelBaseline":"bottom","labelFontSize":11,"titleFontSize":12,"labelPadding":2,"titlePadding":2,"tickSize":3}}}},{"data":{"values":[{"lx":0}]},"mark":{"type":"point","opacity":0},"encoding":{"x":{"field":"lx","type":"quantitative","axis":{"orient":"bottom","values":[0.301,0.477,0.602,0.699,0.778,0.845,0.903,0.954,1.301,1.477,1.602,1.699,1.778,1.845,1.903,1.954,2.301,2.477,2.602,2.699,2.778,2.845,2.903,2.954,3.301,3.477,3.602,3.699,3.778,3.845,3.903,3.954],"labels":false,"domain":false,"title":null,"tickSize":3}}}},{"data":{"name":"gates"},"transform":[{"filter":"datum.panel === 'A21'"}],"layer":[{"mark":{"type":"rule","strokeWidth":1.2,"color":"black"},"encoding":{"x":{"field":"x1","type":"quantitative","axis":null},"x2":{"field":"x2"},"y":{"field":"y","type":"quantitative"}}},{"mark":{"type":"tick","orient":"vertical","size":7,"thickness":1.2,"color":"black"},"encoding":{"x":{"field":"x1","type":"quantitative","axis":null},"y":{"field":"y","type":"quantitative"}}},{"mark":{"type":"tick","orient":"vertical","size":7,"thickness":1.2,"color":"black"},"encoding":{"x":{"field":"x2","type":"quantitative","axis":null},"y":{"field":"y","type":"quantitative"}}},{"mark":{"type":"text","fontSize":26,"fontWeight":"bold","baseline":"alphabetic","color":"black"},"encoding":{"x":{"field":"numX","type":"quantitative","axis":null},"y":{"field":"numY","type":"quantitative"},"text":{"field":"pct","type":"nominal"}}},{"mark":{"type":"text","fontSize":11,"baseline":"alphabetic","color":"black"},"encoding":{"x":{"field":"m1X","type":"quantitative","axis":null},"y":{"field":"m1Y","type":"quantitative"},"text":{"value":"M1"}}}]}]},
   {"width":10,"height":35,"data":{"values":[]},"mark":"point"},
   {"width":167,"height":126,"resolve":{"axis":{"x":"independent"}},"layer":[{"data":{"name":"hist"},"transform":[{"filter":"datum.panel === 'A31'"},{"flatten":["lx","n"]}],"mark":{"type":"area","fill":"#c8c8c8","stroke":"black","strokeWidth":1},"encoding":{"x":{"field":"lx","type":"quantitative","scale":{"domain":[0,4],"nice":false},"axis":{"orient":"bottom","title":"PE-Va.2","values":[0,1,2,3,4],"labelExpr":"'10' + (datum.value == 0 ? '⁰' : datum.value == 1 ? '¹' : datum.value == 2 ? '²' : datum.value == 3 ? '³' : '⁴')","labelOverlap":false,"labelFlush":false,"tickSize":5,"labelFontSize":12,"titleFontSize":12,"labelPadding":1,"titlePadding":2}},"y":{"field":"n","type":"quantitative","scale":{"domain":[0,128],"nice":false},"axis":{"title":"Events","values":[0,32,64,96,128],"labelExpr":"datum.value === 0 || datum.value === 128 ? datum.label : ''","labelAngle":270,"labelAlign":"center","labelBaseline":"bottom","labelFontSize":11,"titleFontSize":12,"labelPadding":2,"titlePadding":2,"tickSize":3}}}},{"data":{"values":[{"lx":0}]},"mark":{"type":"point","opacity":0},"encoding":{"x":{"field":"lx","type":"quantitative","axis":{"orient":"bottom","values":[0.301,0.477,0.602,0.699,0.778,0.845,0.903,0.954,1.301,1.477,1.602,1.699,1.778,1.845,1.903,1.954,2.301,2.477,2.602,2.699,2.778,2.845,2.903,2.954,3.301,3.477,3.602,3.699,3.778,3.845,3.903,3.954],"labels":false,"domain":false,"title":null,"tickSize":3}}}},{"data":{"name":"gates"},"transform":[{"filter":"datum.panel === 'A31'"}],"layer":[{"mark":{"type":"rule","strokeWidth":1.2,"color":"black"},"encoding":{"x":{"field":"x1","type":"quantitative","axis":null},"x2":{"field":"x2"},"y":{"field":"y","type":"quantitative"}}},{"mark":{"type":"tick","orient":"vertical","size":7,"thickness":1.2,"color":"black"},"encoding":{"x":{"field":"x1","type":"quantitative","axis":null},"y":{"field":"y","type":"quantitative"}}},{"mark":{"type":"tick","orient":"vertical","size":7,"thickness":1.2,"color":"black"},"encoding":{"x":{"field":"x2","type":"quantitative","axis":null},"y":{"field":"y","type":"quantitative"}}},{"mark":{"type":"text","fontSize":26,"fontWeight":"bold","baseline":"alphabetic","color":"black"},"encoding":{"x":{"field":"numX","type":"quantitative","axis":null},"y":{"field":"numY","type":"quantitative"},"text":{"field":"pct","type":"nominal"}}},{"mark":{"type":"text","fontSize":11,"baseline":"alphabetic","color":"black"},"encoding":{"x":{"field":"m1X","type":"quantitative","axis":null},"y":{"field":"m1Y","type":"quantitative"},"text":{"value":"M1"}}}]}]}
  ]},
  {"bounds":"flush","spacing":0,"vconcat":[
   {"width":10,"height":3,"data":{"values":[]},"mark":"point"},
   {"width":170,"height":118,"resolve":{"axis":{"x":"independent"}},"layer":[{"data":{"name":"hist"},"transform":[{"filter":"datum.panel === 'A12'"},{"flatten":["lx","n"]}],"mark":{"type":"area","fill":"#c8c8c8","stroke":"black","strokeWidth":1},"encoding":{"x":{"field":"lx","type":"quantitative","scale":{"domain":[0,4],"nice":false},"axis":{"orient":"bottom","title":"PE-CD25","values":[0,1,2,3,4],"labelExpr":"'10' + (datum.value == 0 ? '⁰' : datum.value == 1 ? '¹' : datum.value == 2 ? '²' : datum.value == 3 ? '³' : '⁴')","labelOverlap":false,"labelFlush":false,"tickSize":5,"labelFontSize":12,"titleFontSize":12,"labelPadding":1,"titlePadding":2}},"y":{"field":"n","type":"quantitative","scale":{"domain":[0,128],"nice":false},"axis":{"title":"Events","values":[0,32,64,96,128],"labelExpr":"datum.value === 0 || datum.value === 128 ? datum.label : ''","labelAngle":270,"labelAlign":"center","labelBaseline":"bottom","labelFontSize":11,"titleFontSize":12,"labelPadding":2,"titlePadding":2,"tickSize":3}}}},{"data":{"values":[{"lx":0}]},"mark":{"type":"point","opacity":0},"encoding":{"x":{"field":"lx","type":"quantitative","axis":{"orient":"bottom","values":[0.301,0.477,0.602,0.699,0.778,0.845,0.903,0.954,1.301,1.477,1.602,1.699,1.778,1.845,1.903,1.954,2.301,2.477,2.602,2.699,2.778,2.845,2.903,2.954,3.301,3.477,3.602,3.699,3.778,3.845,3.903,3.954],"labels":false,"domain":false,"title":null,"tickSize":3}}}},{"data":{"name":"gates"},"transform":[{"filter":"datum.panel === 'A12'"}],"layer":[{"mark":{"type":"rule","strokeWidth":1.2,"color":"black"},"encoding":{"x":{"field":"x1","type":"quantitative","axis":null},"x2":{"field":"x2"},"y":{"field":"y","type":"quantitative"}}},{"mark":{"type":"tick","orient":"vertical","size":7,"thickness":1.2,"color":"black"},"encoding":{"x":{"field":"x1","type":"quantitative","axis":null},"y":{"field":"y","type":"quantitative"}}},{"mark":{"type":"tick","orient":"vertical","size":7,"thickness":1.2,"color":"black"},"encoding":{"x":{"field":"x2","type":"quantitative","axis":null},"y":{"field":"y","type":"quantitative"}}},{"mark":{"type":"text","fontSize":26,"fontWeight":"bold","baseline":"alphabetic","color":"black"},"encoding":{"x":{"field":"numX","type":"quantitative","axis":null},"y":{"field":"numY","type":"quantitative"},"text":{"field":"pct","type":"nominal"}}},{"mark":{"type":"text","fontSize":11,"baseline":"alphabetic","color":"black"},"encoding":{"x":{"field":"m1X","type":"quantitative","axis":null},"y":{"field":"m1Y","type":"quantitative"},"text":{"value":"M1"}}}]}]},
   {"width":10,"height":51,"data":{"values":[]},"mark":"point"},
   {"width":170,"height":123,"resolve":{"axis":{"x":"independent"}},"layer":[{"data":{"name":"hist"},"transform":[{"filter":"datum.panel === 'A22'"},{"flatten":["lx","n"]}],"mark":{"type":"area","fill":"#c8c8c8","stroke":"black","strokeWidth":1},"encoding":{"x":{"field":"lx","type":"quantitative","scale":{"domain":[0,4],"nice":false},"axis":{"orient":"bottom","title":"PE-CD25","values":[0,1,2,3,4],"labelExpr":"'10' + (datum.value == 0 ? '⁰' : datum.value == 1 ? '¹' : datum.value == 2 ? '²' : datum.value == 3 ? '³' : '⁴')","labelOverlap":false,"labelFlush":false,"tickSize":5,"labelFontSize":12,"titleFontSize":12,"labelPadding":1,"titlePadding":2}},"y":{"field":"n","type":"quantitative","scale":{"domain":[0,128],"nice":false},"axis":{"title":"Events","values":[0,32,64,96,128],"labelExpr":"datum.value === 0 || datum.value === 128 ? datum.label : ''","labelAngle":270,"labelAlign":"center","labelBaseline":"bottom","labelFontSize":11,"titleFontSize":12,"labelPadding":2,"titlePadding":2,"tickSize":3}}}},{"data":{"values":[{"lx":0}]},"mark":{"type":"point","opacity":0},"encoding":{"x":{"field":"lx","type":"quantitative","axis":{"orient":"bottom","values":[0.301,0.477,0.602,0.699,0.778,0.845,0.903,0.954,1.301,1.477,1.602,1.699,1.778,1.845,1.903,1.954,2.301,2.477,2.602,2.699,2.778,2.845,2.903,2.954,3.301,3.477,3.602,3.699,3.778,3.845,3.903,3.954],"labels":false,"domain":false,"title":null,"tickSize":3}}}},{"data":{"name":"gates"},"transform":[{"filter":"datum.panel === 'A22'"}],"layer":[{"mark":{"type":"rule","strokeWidth":1.2,"color":"black"},"encoding":{"x":{"field":"x1","type":"quantitative","axis":null},"x2":{"field":"x2"},"y":{"field":"y","type":"quantitative"}}},{"mark":{"type":"tick","orient":"vertical","size":7,"thickness":1.2,"color":"black"},"encoding":{"x":{"field":"x1","type":"quantitative","axis":null},"y":{"field":"y","type":"quantitative"}}},{"mark":{"type":"tick","orient":"vertical","size":7,"thickness":1.2,"color":"black"},"encoding":{"x":{"field":"x2","type":"quantitative","axis":null},"y":{"field":"y","type":"quantitative"}}},{"mark":{"type":"text","fontSize":26,"fontWeight":"bold","baseline":"alphabetic","color":"black"},"encoding":{"x":{"field":"numX","type":"quantitative","axis":null},"y":{"field":"numY","type":"quantitative"},"text":{"field":"pct","type":"nominal"}}},{"mark":{"type":"text","fontSize":11,"baseline":"alphabetic","color":"black"},"encoding":{"x":{"field":"m1X","type":"quantitative","axis":null},"y":{"field":"m1Y","type":"quantitative"},"text":{"value":"M1"}}}]}]},
   {"width":10,"height":39,"data":{"values":[]},"mark":"point"},
   {"width":170,"height":122,"resolve":{"axis":{"x":"independent"}},"layer":[{"data":{"name":"hist"},"transform":[{"filter":"datum.panel === 'A32'"},{"flatten":["lx","n"]}],"mark":{"type":"area","fill":"#c8c8c8","stroke":"black","strokeWidth":1},"encoding":{"x":{"field":"lx","type":"quantitative","scale":{"domain":[0,4],"nice":false},"axis":{"orient":"bottom","title":"PE-CD25","values":[0,1,2,3,4],"labelExpr":"'10' + (datum.value == 0 ? '⁰' : datum.value == 1 ? '¹' : datum.value == 2 ? '²' : datum.value == 3 ? '³' : '⁴')","labelOverlap":false,"labelFlush":false,"tickSize":5,"labelFontSize":12,"titleFontSize":12,"labelPadding":1,"titlePadding":2}},"y":{"field":"n","type":"quantitative","scale":{"domain":[0,128],"nice":false},"axis":{"title":"Events","values":[0,32,64,96,128],"labelExpr":"datum.value === 0 || datum.value === 128 ? datum.label : ''","labelAngle":270,"labelAlign":"center","labelBaseline":"bottom","labelFontSize":11,"titleFontSize":12,"labelPadding":2,"titlePadding":2,"tickSize":3}}}},{"data":{"values":[{"lx":0}]},"mark":{"type":"point","opacity":0},"encoding":{"x":{"field":"lx","type":"quantitative","axis":{"orient":"bottom","values":[0.301,0.477,0.602,0.699,0.778,0.845,0.903,0.954,1.301,1.477,1.602,1.699,1.778,1.845,1.903,1.954,2.301,2.477,2.602,2.699,2.778,2.845,2.903,2.954,3.301,3.477,3.602,3.699,3.778,3.845,3.903,3.954],"labels":false,"domain":false,"title":null,"tickSize":3}}}},{"data":{"name":"gates"},"transform":[{"filter":"datum.panel === 'A32'"}],"layer":[{"mark":{"type":"rule","strokeWidth":1.2,"color":"black"},"encoding":{"x":{"field":"x1","type":"quantitative","axis":null},"x2":{"field":"x2"},"y":{"field":"y","type":"quantitative"}}},{"mark":{"type":"tick","orient":"vertical","size":7,"thickness":1.2,"color":"black"},"encoding":{"x":{"field":"x1","type":"quantitative","axis":null},"y":{"field":"y","type":"quantitative"}}},{"mark":{"type":"tick","orient":"vertical","size":7,"thickness":1.2,"color":"black"},"encoding":{"x":{"field":"x2","type":"quantitative","axis":null},"y":{"field":"y","type":"quantitative"}}},{"mark":{"type":"text","fontSize":26,"fontWeight":"bold","baseline":"alphabetic","color":"black"},"encoding":{"x":{"field":"numX","type":"quantitative","axis":null},"y":{"field":"numY","type":"quantitative"},"text":{"field":"pct","type":"nominal"}}},{"mark":{"type":"text","fontSize":11,"baseline":"alphabetic","color":"black"},"encoding":{"x":{"field":"m1X","type":"quantitative","axis":null},"y":{"field":"m1Y","type":"quantitative"},"text":{"value":"M1"}}}]}]}
  ]},
  {"bounds":"flush","spacing":0,"vconcat":[
   {"width":10,"height":2,"data":{"values":[]},"mark":"point"},
   {"width":197,"height":119,"resolve":{"axis":{"x":"independent"}},"layer":[{"data":{"name":"hist"},"transform":[{"filter":"datum.panel === 'A13'"},{"flatten":["lx","n"]}],"mark":{"type":"area","fill":"#c8c8c8","stroke":"black","strokeWidth":1},"encoding":{"x":{"field":"lx","type":"quantitative","scale":{"domain":[0,4],"nice":false},"axis":{"orient":"bottom","title":"FITC-CD45RB","values":[0,1,2,3,4],"labelExpr":"'10' + (datum.value == 0 ? '⁰' : datum.value == 1 ? '¹' : datum.value == 2 ? '²' : datum.value == 3 ? '³' : '⁴')","labelOverlap":false,"labelFlush":false,"tickSize":5,"labelFontSize":12,"titleFontSize":12,"labelPadding":1,"titlePadding":2}},"y":{"field":"n","type":"quantitative","scale":{"domain":[0,128],"nice":false},"axis":{"title":"Events","values":[0,32,64,96,128],"labelExpr":"datum.value === 0 || datum.value === 128 ? datum.label : ''","labelAngle":270,"labelAlign":"center","labelBaseline":"bottom","labelFontSize":11,"titleFontSize":12,"labelPadding":2,"titlePadding":2,"tickSize":3}}}},{"data":{"values":[{"lx":0}]},"mark":{"type":"point","opacity":0},"encoding":{"x":{"field":"lx","type":"quantitative","axis":{"orient":"bottom","values":[0.301,0.477,0.602,0.699,0.778,0.845,0.903,0.954,1.301,1.477,1.602,1.699,1.778,1.845,1.903,1.954,2.301,2.477,2.602,2.699,2.778,2.845,2.903,2.954,3.301,3.477,3.602,3.699,3.778,3.845,3.903,3.954],"labels":false,"domain":false,"title":null,"tickSize":3}}}},{"data":{"name":"gates"},"transform":[{"filter":"datum.panel === 'A13'"}],"layer":[{"mark":{"type":"rule","strokeWidth":1.2,"color":"black"},"encoding":{"x":{"field":"x1","type":"quantitative","axis":null},"x2":{"field":"x2"},"y":{"field":"y","type":"quantitative"}}},{"mark":{"type":"tick","orient":"vertical","size":7,"thickness":1.2,"color":"black"},"encoding":{"x":{"field":"x1","type":"quantitative","axis":null},"y":{"field":"y","type":"quantitative"}}},{"mark":{"type":"tick","orient":"vertical","size":7,"thickness":1.2,"color":"black"},"encoding":{"x":{"field":"x2","type":"quantitative","axis":null},"y":{"field":"y","type":"quantitative"}}},{"mark":{"type":"text","fontSize":26,"fontWeight":"bold","baseline":"alphabetic","color":"black"},"encoding":{"x":{"field":"numX","type":"quantitative","axis":null},"y":{"field":"numY","type":"quantitative"},"text":{"field":"pct","type":"nominal"}}},{"mark":{"type":"text","fontSize":11,"baseline":"alphabetic","color":"black"},"encoding":{"x":{"field":"m1X","type":"quantitative","axis":null},"y":{"field":"m1Y","type":"quantitative"},"text":{"value":"M1"}}}]}]},
   {"width":10,"height":53,"data":{"values":[]},"mark":"point"},
   {"width":197,"height":117,"resolve":{"axis":{"x":"independent"}},"layer":[{"data":{"name":"hist"},"transform":[{"filter":"datum.panel === 'A23'"},{"flatten":["lx","n"]}],"mark":{"type":"area","fill":"#c8c8c8","stroke":"black","strokeWidth":1},"encoding":{"x":{"field":"lx","type":"quantitative","scale":{"domain":[0,4],"nice":false},"axis":{"orient":"bottom","title":"FITC-CD45RB","values":[0,1,2,3,4],"labelExpr":"'10' + (datum.value == 0 ? '⁰' : datum.value == 1 ? '¹' : datum.value == 2 ? '²' : datum.value == 3 ? '³' : '⁴')","labelOverlap":false,"labelFlush":false,"tickSize":5,"labelFontSize":12,"titleFontSize":12,"labelPadding":1,"titlePadding":2}},"y":{"field":"n","type":"quantitative","scale":{"domain":[0,128],"nice":false},"axis":{"title":"Events","values":[0,32,64,96,128],"labelExpr":"datum.value === 0 || datum.value === 128 ? datum.label : ''","labelAngle":270,"labelAlign":"center","labelBaseline":"bottom","labelFontSize":11,"titleFontSize":12,"labelPadding":2,"titlePadding":2,"tickSize":3}}}},{"data":{"values":[{"lx":0}]},"mark":{"type":"point","opacity":0},"encoding":{"x":{"field":"lx","type":"quantitative","axis":{"orient":"bottom","values":[0.301,0.477,0.602,0.699,0.778,0.845,0.903,0.954,1.301,1.477,1.602,1.699,1.778,1.845,1.903,1.954,2.301,2.477,2.602,2.699,2.778,2.845,2.903,2.954,3.301,3.477,3.602,3.699,3.778,3.845,3.903,3.954],"labels":false,"domain":false,"title":null,"tickSize":3}}}},{"data":{"name":"gates"},"transform":[{"filter":"datum.panel === 'A23'"}],"layer":[{"mark":{"type":"rule","strokeWidth":1.2,"color":"black"},"encoding":{"x":{"field":"x1","type":"quantitative","axis":null},"x2":{"field":"x2"},"y":{"field":"y","type":"quantitative"}}},{"mark":{"type":"tick","orient":"vertical","size":7,"thickness":1.2,"color":"black"},"encoding":{"x":{"field":"x1","type":"quantitative","axis":null},"y":{"field":"y","type":"quantitative"}}},{"mark":{"type":"tick","orient":"vertical","size":7,"thickness":1.2,"color":"black"},"encoding":{"x":{"field":"x2","type":"quantitative","axis":null},"y":{"field":"y","type":"quantitative"}}},{"mark":{"type":"text","fontSize":26,"fontWeight":"bold","baseline":"alphabetic","color":"black"},"encoding":{"x":{"field":"numX","type":"quantitative","axis":null},"y":{"field":"numY","type":"quantitative"},"text":{"field":"pct","type":"nominal"}}},{"mark":{"type":"text","fontSize":11,"baseline":"alphabetic","color":"black"},"encoding":{"x":{"field":"m1X","type":"quantitative","axis":null},"y":{"field":"m1Y","type":"quantitative"},"text":{"value":"M1"}}}]}]},
   {"width":10,"height":46,"data":{"values":[]},"mark":"point"},
   {"width":197,"height":115,"resolve":{"axis":{"x":"independent"}},"layer":[{"data":{"name":"hist"},"transform":[{"filter":"datum.panel === 'A33'"},{"flatten":["lx","n"]}],"mark":{"type":"area","fill":"#c8c8c8","stroke":"black","strokeWidth":1},"encoding":{"x":{"field":"lx","type":"quantitative","scale":{"domain":[0,4],"nice":false},"axis":{"orient":"bottom","title":"FITC-CD45RB","values":[0,1,2,3,4],"labelExpr":"'10' + (datum.value == 0 ? '⁰' : datum.value == 1 ? '¹' : datum.value == 2 ? '²' : datum.value == 3 ? '³' : '⁴')","labelOverlap":false,"labelFlush":false,"tickSize":5,"labelFontSize":12,"titleFontSize":12,"labelPadding":1,"titlePadding":2}},"y":{"field":"n","type":"quantitative","scale":{"domain":[0,128],"nice":false},"axis":{"title":"Events","values":[0,32,64,96,128],"labelExpr":"datum.value === 0 || datum.value === 128 ? datum.label : ''","labelAngle":270,"labelAlign":"center","labelBaseline":"bottom","labelFontSize":11,"titleFontSize":12,"labelPadding":2,"titlePadding":2,"tickSize":3}}}},{"data":{"values":[{"lx":0}]},"mark":{"type":"point","opacity":0},"encoding":{"x":{"field":"lx","type":"quantitative","axis":{"orient":"bottom","values":[0.301,0.477,0.602,0.699,0.778,0.845,0.903,0.954,1.301,1.477,1.602,1.699,1.778,1.845,1.903,1.954,2.301,2.477,2.602,2.699,2.778,2.845,2.903,2.954,3.301,3.477,3.602,3.699,3.778,3.845,3.903,3.954],"labels":false,"domain":false,"title":null,"tickSize":3}}}},{"data":{"name":"gates"},"transform":[{"filter":"datum.panel === 'A33'"}],"layer":[{"mark":{"type":"rule","strokeWidth":1.2,"color":"black"},"encoding":{"x":{"field":"x1","type":"quantitative","axis":null},"x2":{"field":"x2"},"y":{"field":"y","type":"quantitative"}}},{"mark":{"type":"tick","orient":"vertical","size":7,"thickness":1.2,"color":"black"},"encoding":{"x":{"field":"x1","type":"quantitative","axis":null},"y":{"field":"y","type":"quantitative"}}},{"mark":{"type":"tick","orient":"vertical","size":7,"thickness":1.2,"color":"black"},"encoding":{"x":{"field":"x2","type":"quantitative","axis":null},"y":{"field":"y","type":"quantitative"}}},{"mark":{"type":"text","fontSize":26,"fontWeight":"bold","baseline":"alphabetic","color":"black"},"encoding":{"x":{"field":"numX","type":"quantitative","axis":null},"y":{"field":"numY","type":"quantitative"},"text":{"field":"pct","type":"nominal"}}},{"mark":{"type":"text","fontSize":11,"baseline":"alphabetic","color":"black"},"encoding":{"x":{"field":"m1X","type":"quantitative","axis":null},"y":{"field":"m1Y","type":"quantitative"},"text":{"value":"M1"}}}]}]}
  ]}
 ]}
]},
{"spacing":1.5,"hconcat":[
 {"bounds":"flush","spacing":0,"vconcat":[
  {"width":10,"height":81,"data":{"values":[]},"mark":"point"},
  {"width":234,"height":265,"view":{"stroke":"black","strokeWidth":1},
   "title":{"text":"B  MLN","anchor":"start","frame":"group","fontSize":28,"fontWeight":"bold","offset":5,"dx":-6,"baseline":"alphabetic"},
   "resolve":{"axis":{"x":"independent","y":"independent"}},
   "layer":[
    {"data":{"name":"dotsB"},"mark":{"type":"point","filled":true,"size":4,"opacity":1,"strokeWidth":0,"color":"black"},"encoding":{"x":{"field":"lx","type":"quantitative","scale":{"domain":[0,4],"nice":false},"axis":{"orient":"bottom","title":"CyChrome-CD3","values":[0,1,2,3,4],"labelExpr":"'10' + (datum.value == 0 ? '⁰' : datum.value == 1 ? '¹' : datum.value == 2 ? '²' : datum.value == 3 ? '³' : '⁴')","labelOverlap":false,"labelFlush":false,"tickSize":4,"labelFontSize":9,"titleFontSize":9,"labelPadding":1,"titlePadding":1}},"y":{"field":"ly","type":"quantitative","scale":{"domain":[0,4],"nice":false},"axis":{"orient":"left","title":"FITC-KJ1-26","values":[0,1,2,3,4],"labelExpr":"'10' + (datum.value == 0 ? '⁰' : datum.value == 1 ? '¹' : datum.value == 2 ? '²' : datum.value == 3 ? '³' : '⁴')","labelOverlap":false,"labelFlush":false,"tickSize":4,"labelAngle":270,"labelAlign":"center","labelBaseline":"bottom","labelFontSize":9,"titleFontSize":9,"labelPadding":1,"titlePadding":2}}}},
    {"data":{"values":[{"lx":0,"ly":0}]},"mark":{"type":"point","opacity":0},"encoding":{"x":{"field":"lx","type":"quantitative","axis":{"orient":"bottom","values":[0.301,0.477,0.602,0.699,0.778,0.845,0.903,0.954,1.301,1.477,1.602,1.699,1.778,1.845,1.903,1.954,2.301,2.477,2.602,2.699,2.778,2.845,2.903,2.954,3.301,3.477,3.602,3.699,3.778,3.845,3.903,3.954],"labels":false,"domain":false,"title":null,"tickSize":2}},"y":{"field":"ly","type":"quantitative","axis":{"orient":"left","values":[0.301,0.477,0.602,0.699,0.778,0.845,0.903,0.954,1.301,1.477,1.602,1.699,1.778,1.845,1.903,1.954,2.301,2.477,2.602,2.699,2.778,2.845,2.903,2.954,3.301,3.477,3.602,3.699,3.778,3.845,3.903,3.954],"labels":false,"domain":false,"title":null,"tickSize":2}}}},
    {"data":{"name":"core"},"mark":{"type":"point","filled":true,"size":34,"opacity":1,"strokeWidth":0,"color":"black"},"encoding":{"x":{"field":"lx","type":"quantitative","axis":null},"y":{"field":"ly","type":"quantitative","axis":null}}},
    {"data":{"name":"gatesB"},"layer":[
     {"mark":{"type":"rect","filled":false,"stroke":"black","strokeWidth":1.2},"encoding":{"x":{"field":"x1","type":"quantitative","axis":null},"x2":{"field":"x2"},"y":{"field":"y1","type":"quantitative","axis":null},"y2":{"field":"y2"}}},
     {"mark":{"type":"text","fontSize":18,"baseline":"middle","color":"black"},"encoding":{"x":{"field":"lx","type":"quantitative","axis":null},"y":{"field":"ly","type":"quantitative","axis":null},"text":{"field":"g","type":"nominal"}}},
     {"mark":{"type":"rule","strokeWidth":1.6,"clip":false,"color":"black"},"encoding":{"x":{"field":"ax0","type":"quantitative","axis":null},"y":{"field":"ay0","type":"quantitative","axis":null},"x2":{"field":"ax1"},"y2":{"field":"ay1"}}},
     {"transform":[{"filter":"datum.g === 'R3'"}],"mark":{"type":"point","shape":"triangle-right","filled":true,"size":150,"angle":328,"opacity":1,"clip":false,"color":"black"},"encoding":{"x":{"field":"ax1","type":"quantitative","axis":null},"y":{"field":"ay1","type":"quantitative","axis":null}}},
     {"transform":[{"filter":"datum.g === 'R4'"}],"mark":{"type":"point","shape":"triangle-right","filled":true,"size":150,"angle":0,"opacity":1,"clip":false,"color":"black"},"encoding":{"x":{"field":"ax1","type":"quantitative","axis":null},"y":{"field":"ay1","type":"quantitative","axis":null}}},
     {"transform":[{"filter":"datum.g === 'R5'"}],"mark":{"type":"point","shape":"triangle-right","filled":true,"size":150,"angle":32,"opacity":1,"clip":false,"color":"black"},"encoding":{"x":{"field":"ax1","type":"quantitative","axis":null},"y":{"field":"ay1","type":"quantitative","axis":null}}}
    ]}
   ]}
 ]},
 {"spacing":-6,"hconcat":[
  {"bounds":"flush","spacing":0,"vconcat":[
   {"width":166,"height":124,"resolve":{"axis":{"x":"independent"}},"layer":[{"data":{"name":"hist"},"transform":[{"filter":"datum.panel === 'B11'"},{"flatten":["lx","n"]}],"mark":{"type":"area","fill":"#c8c8c8","stroke":"black","strokeWidth":1},"encoding":{"x":{"field":"lx","type":"quantitative","scale":{"domain":[0,4],"nice":false},"axis":{"orient":"bottom","title":"PE-Va.2","values":[0,1,2,3,4],"labelExpr":"'10' + (datum.value == 0 ? '⁰' : datum.value == 1 ? '¹' : datum.value == 2 ? '²' : datum.value == 3 ? '³' : '⁴')","labelOverlap":false,"labelFlush":false,"tickSize":5,"labelFontSize":12,"titleFontSize":12,"labelPadding":1,"titlePadding":2}},"y":{"field":"n","type":"quantitative","scale":{"domain":[0,64],"nice":false},"axis":{"title":"Events","values":[0,16,32,48,64],"labelExpr":"datum.value === 0 || datum.value === 64 ? datum.label : ''","labelAngle":270,"labelAlign":"center","labelBaseline":"bottom","labelFontSize":11,"titleFontSize":12,"labelPadding":2,"titlePadding":2,"tickSize":3}}}},{"data":{"values":[{"lx":0}]},"mark":{"type":"point","opacity":0},"encoding":{"x":{"field":"lx","type":"quantitative","axis":{"orient":"bottom","values":[0.301,0.477,0.602,0.699,0.778,0.845,0.903,0.954,1.301,1.477,1.602,1.699,1.778,1.845,1.903,1.954,2.301,2.477,2.602,2.699,2.778,2.845,2.903,2.954,3.301,3.477,3.602,3.699,3.778,3.845,3.903,3.954],"labels":false,"domain":false,"title":null,"tickSize":3}}}},{"data":{"name":"gates"},"transform":[{"filter":"datum.panel === 'B11'"}],"layer":[{"mark":{"type":"rule","strokeWidth":1.2,"color":"black"},"encoding":{"x":{"field":"x1","type":"quantitative","axis":null},"x2":{"field":"x2"},"y":{"field":"y","type":"quantitative"}}},{"mark":{"type":"tick","orient":"vertical","size":7,"thickness":1.2,"color":"black"},"encoding":{"x":{"field":"x1","type":"quantitative","axis":null},"y":{"field":"y","type":"quantitative"}}},{"mark":{"type":"tick","orient":"vertical","size":7,"thickness":1.2,"color":"black"},"encoding":{"x":{"field":"x2","type":"quantitative","axis":null},"y":{"field":"y","type":"quantitative"}}},{"mark":{"type":"text","fontSize":26,"fontWeight":"bold","baseline":"alphabetic","color":"black"},"encoding":{"x":{"field":"numX","type":"quantitative","axis":null},"y":{"field":"numY","type":"quantitative"},"text":{"field":"pct","type":"nominal"}}},{"mark":{"type":"text","fontSize":11,"baseline":"alphabetic","color":"black"},"encoding":{"x":{"field":"m1X","type":"quantitative","axis":null},"y":{"field":"m1Y","type":"quantitative"},"text":{"value":"M1"}}}]}]},
   {"width":10,"height":55,"data":{"values":[]},"mark":"point"},
   {"width":166,"height":123,"resolve":{"axis":{"x":"independent"}},"layer":[{"data":{"name":"hist"},"transform":[{"filter":"datum.panel === 'B21'"},{"flatten":["lx","n"]}],"mark":{"type":"area","fill":"#c8c8c8","stroke":"black","strokeWidth":1},"encoding":{"x":{"field":"lx","type":"quantitative","scale":{"domain":[0,4],"nice":false},"axis":{"orient":"bottom","title":"PE-Va.2","values":[0,1,2,3,4],"labelExpr":"'10' + (datum.value == 0 ? '⁰' : datum.value == 1 ? '¹' : datum.value == 2 ? '²' : datum.value == 3 ? '³' : '⁴')","labelOverlap":false,"labelFlush":false,"tickSize":5,"labelFontSize":12,"titleFontSize":12,"labelPadding":1,"titlePadding":2}},"y":{"field":"n","type":"quantitative","scale":{"domain":[0,64],"nice":false},"axis":{"title":"Events","values":[0,16,32,48,64],"labelExpr":"datum.value === 0 || datum.value === 64 ? datum.label : ''","labelAngle":270,"labelAlign":"center","labelBaseline":"bottom","labelFontSize":11,"titleFontSize":12,"labelPadding":2,"titlePadding":2,"tickSize":3}}}},{"data":{"values":[{"lx":0}]},"mark":{"type":"point","opacity":0},"encoding":{"x":{"field":"lx","type":"quantitative","axis":{"orient":"bottom","values":[0.301,0.477,0.602,0.699,0.778,0.845,0.903,0.954,1.301,1.477,1.602,1.699,1.778,1.845,1.903,1.954,2.301,2.477,2.602,2.699,2.778,2.845,2.903,2.954,3.301,3.477,3.602,3.699,3.778,3.845,3.903,3.954],"labels":false,"domain":false,"title":null,"tickSize":3}}}},{"data":{"name":"gates"},"transform":[{"filter":"datum.panel === 'B21'"}],"layer":[{"mark":{"type":"rule","strokeWidth":1.2,"color":"black"},"encoding":{"x":{"field":"x1","type":"quantitative","axis":null},"x2":{"field":"x2"},"y":{"field":"y","type":"quantitative"}}},{"mark":{"type":"tick","orient":"vertical","size":7,"thickness":1.2,"color":"black"},"encoding":{"x":{"field":"x1","type":"quantitative","axis":null},"y":{"field":"y","type":"quantitative"}}},{"mark":{"type":"tick","orient":"vertical","size":7,"thickness":1.2,"color":"black"},"encoding":{"x":{"field":"x2","type":"quantitative","axis":null},"y":{"field":"y","type":"quantitative"}}},{"mark":{"type":"text","fontSize":26,"fontWeight":"bold","baseline":"alphabetic","color":"black"},"encoding":{"x":{"field":"numX","type":"quantitative","axis":null},"y":{"field":"numY","type":"quantitative"},"text":{"field":"pct","type":"nominal"}}},{"mark":{"type":"text","fontSize":11,"baseline":"alphabetic","color":"black"},"encoding":{"x":{"field":"m1X","type":"quantitative","axis":null},"y":{"field":"m1Y","type":"quantitative"},"text":{"value":"M1"}}}]}]},
   {"width":10,"height":54,"data":{"values":[]},"mark":"point"},
   {"width":166,"height":123,"resolve":{"axis":{"x":"independent"}},"layer":[{"data":{"name":"hist"},"transform":[{"filter":"datum.panel === 'B31'"},{"flatten":["lx","n"]}],"mark":{"type":"area","fill":"#c8c8c8","stroke":"black","strokeWidth":1},"encoding":{"x":{"field":"lx","type":"quantitative","scale":{"domain":[0,4],"nice":false},"axis":{"orient":"bottom","title":"PE-Va.2","values":[0,1,2,3,4],"labelExpr":"'10' + (datum.value == 0 ? '⁰' : datum.value == 1 ? '¹' : datum.value == 2 ? '²' : datum.value == 3 ? '³' : '⁴')","labelOverlap":false,"labelFlush":false,"tickSize":5,"labelFontSize":12,"titleFontSize":12,"labelPadding":1,"titlePadding":2}},"y":{"field":"n","type":"quantitative","scale":{"domain":[0,64],"nice":false},"axis":{"title":"Events","values":[0,16,32,48,64],"labelExpr":"datum.value === 0 || datum.value === 64 ? datum.label : ''","labelAngle":270,"labelAlign":"center","labelBaseline":"bottom","labelFontSize":11,"titleFontSize":12,"labelPadding":2,"titlePadding":2,"tickSize":3}}}},{"data":{"values":[{"lx":0}]},"mark":{"type":"point","opacity":0},"encoding":{"x":{"field":"lx","type":"quantitative","axis":{"orient":"bottom","values":[0.301,0.477,0.602,0.699,0.778,0.845,0.903,0.954,1.301,1.477,1.602,1.699,1.778,1.845,1.903,1.954,2.301,2.477,2.602,2.699,2.778,2.845,2.903,2.954,3.301,3.477,3.602,3.699,3.778,3.845,3.903,3.954],"labels":false,"domain":false,"title":null,"tickSize":3}}}},{"data":{"name":"gates"},"transform":[{"filter":"datum.panel === 'B31'"}],"layer":[{"mark":{"type":"rule","strokeWidth":1.2,"color":"black"},"encoding":{"x":{"field":"x1","type":"quantitative","axis":null},"x2":{"field":"x2"},"y":{"field":"y","type":"quantitative"}}},{"mark":{"type":"tick","orient":"vertical","size":7,"thickness":1.2,"color":"black"},"encoding":{"x":{"field":"x1","type":"quantitative","axis":null},"y":{"field":"y","type":"quantitative"}}},{"mark":{"type":"tick","orient":"vertical","size":7,"thickness":1.2,"color":"black"},"encoding":{"x":{"field":"x2","type":"quantitative","axis":null},"y":{"field":"y","type":"quantitative"}}},{"mark":{"type":"text","fontSize":26,"fontWeight":"bold","baseline":"alphabetic","color":"black"},"encoding":{"x":{"field":"numX","type":"quantitative","axis":null},"y":{"field":"numY","type":"quantitative"},"text":{"field":"pct","type":"nominal"}}},{"mark":{"type":"text","fontSize":11,"baseline":"alphabetic","color":"black"},"encoding":{"x":{"field":"m1X","type":"quantitative","axis":null},"y":{"field":"m1Y","type":"quantitative"},"text":{"value":"M1"}}}]}]}
  ]},
  {"bounds":"flush","spacing":0,"vconcat":[
   {"width":10,"height":3,"data":{"values":[]},"mark":"point"},
   {"width":172,"height":118,"resolve":{"axis":{"x":"independent"}},"layer":[{"data":{"name":"hist"},"transform":[{"filter":"datum.panel === 'B12'"},{"flatten":["lx","n"]}],"mark":{"type":"area","fill":"#c8c8c8","stroke":"black","strokeWidth":1},"encoding":{"x":{"field":"lx","type":"quantitative","scale":{"domain":[0,4],"nice":false},"axis":{"orient":"bottom","title":"PE-CD25","values":[0,1,2,3,4],"labelExpr":"'10' + (datum.value == 0 ? '⁰' : datum.value == 1 ? '¹' : datum.value == 2 ? '²' : datum.value == 3 ? '³' : '⁴')","labelOverlap":false,"labelFlush":false,"tickSize":5,"labelFontSize":12,"titleFontSize":12,"labelPadding":1,"titlePadding":2}},"y":{"field":"n","type":"quantitative","scale":{"domain":[0,128],"nice":false},"axis":{"title":"Events","values":[0,32,64,96,128],"labelExpr":"datum.value === 0 || datum.value === 128 ? datum.label : ''","labelAngle":270,"labelAlign":"center","labelBaseline":"bottom","labelFontSize":11,"titleFontSize":12,"labelPadding":2,"titlePadding":2,"tickSize":3}}}},{"data":{"values":[{"lx":0}]},"mark":{"type":"point","opacity":0},"encoding":{"x":{"field":"lx","type":"quantitative","axis":{"orient":"bottom","values":[0.301,0.477,0.602,0.699,0.778,0.845,0.903,0.954,1.301,1.477,1.602,1.699,1.778,1.845,1.903,1.954,2.301,2.477,2.602,2.699,2.778,2.845,2.903,2.954,3.301,3.477,3.602,3.699,3.778,3.845,3.903,3.954],"labels":false,"domain":false,"title":null,"tickSize":3}}}},{"data":{"name":"gates"},"transform":[{"filter":"datum.panel === 'B12'"}],"layer":[{"mark":{"type":"rule","strokeWidth":1.2,"color":"black"},"encoding":{"x":{"field":"x1","type":"quantitative","axis":null},"x2":{"field":"x2"},"y":{"field":"y","type":"quantitative"}}},{"mark":{"type":"tick","orient":"vertical","size":7,"thickness":1.2,"color":"black"},"encoding":{"x":{"field":"x1","type":"quantitative","axis":null},"y":{"field":"y","type":"quantitative"}}},{"mark":{"type":"tick","orient":"vertical","size":7,"thickness":1.2,"color":"black"},"encoding":{"x":{"field":"x2","type":"quantitative","axis":null},"y":{"field":"y","type":"quantitative"}}},{"mark":{"type":"text","fontSize":26,"fontWeight":"bold","baseline":"alphabetic","color":"black"},"encoding":{"x":{"field":"numX","type":"quantitative","axis":null},"y":{"field":"numY","type":"quantitative"},"text":{"field":"pct","type":"nominal"}}},{"mark":{"type":"text","fontSize":11,"baseline":"alphabetic","color":"black"},"encoding":{"x":{"field":"m1X","type":"quantitative","axis":null},"y":{"field":"m1Y","type":"quantitative"},"text":{"value":"M1"}}}]}]},
   {"width":10,"height":59,"data":{"values":[]},"mark":"point"},
   {"width":181,"height":121,"resolve":{"axis":{"x":"independent"}},"layer":[{"data":{"name":"hist"},"transform":[{"filter":"datum.panel === 'B22'"},{"flatten":["lx","n"]}],"mark":{"type":"area","fill":"#c8c8c8","stroke":"black","strokeWidth":1},"encoding":{"x":{"field":"lx","type":"quantitative","scale":{"domain":[0,4],"nice":false},"axis":{"orient":"bottom","title":"PE-CD25","values":[0,1,2,3,4],"labelExpr":"'10' + (datum.value == 0 ? '⁰' : datum.value == 1 ? '¹' : datum.value == 2 ? '²' : datum.value == 3 ? '³' : '⁴')","labelOverlap":false,"labelFlush":false,"tickSize":5,"labelFontSize":12,"titleFontSize":12,"labelPadding":1,"titlePadding":2}},"y":{"field":"n","type":"quantitative","scale":{"domain":[0,128],"nice":false},"axis":{"title":"Events","values":[0,32,64,96,128],"labelExpr":"datum.value === 0 || datum.value === 128 ? datum.label : ''","labelAngle":270,"labelAlign":"center","labelBaseline":"bottom","labelFontSize":11,"titleFontSize":12,"labelPadding":2,"titlePadding":2,"tickSize":3}}}},{"data":{"values":[{"lx":0}]},"mark":{"type":"point","opacity":0},"encoding":{"x":{"field":"lx","type":"quantitative","axis":{"orient":"bottom","values":[0.301,0.477,0.602,0.699,0.778,0.845,0.903,0.954,1.301,1.477,1.602,1.699,1.778,1.845,1.903,1.954,2.301,2.477,2.602,2.699,2.778,2.845,2.903,2.954,3.301,3.477,3.602,3.699,3.778,3.845,3.903,3.954],"labels":false,"domain":false,"title":null,"tickSize":3}}}},{"data":{"name":"gates"},"transform":[{"filter":"datum.panel === 'B22'"}],"layer":[{"mark":{"type":"rule","strokeWidth":1.2,"color":"black"},"encoding":{"x":{"field":"x1","type":"quantitative","axis":null},"x2":{"field":"x2"},"y":{"field":"y","type":"quantitative"}}},{"mark":{"type":"tick","orient":"vertical","size":7,"thickness":1.2,"color":"black"},"encoding":{"x":{"field":"x1","type":"quantitative","axis":null},"y":{"field":"y","type":"quantitative"}}},{"mark":{"type":"tick","orient":"vertical","size":7,"thickness":1.2,"color":"black"},"encoding":{"x":{"field":"x2","type":"quantitative","axis":null},"y":{"field":"y","type":"quantitative"}}},{"mark":{"type":"text","fontSize":26,"fontWeight":"bold","baseline":"alphabetic","color":"black"},"encoding":{"x":{"field":"numX","type":"quantitative","axis":null},"y":{"field":"numY","type":"quantitative"},"text":{"field":"pct","type":"nominal"}}},{"mark":{"type":"text","fontSize":11,"baseline":"alphabetic","color":"black"},"encoding":{"x":{"field":"m1X","type":"quantitative","axis":null},"y":{"field":"m1Y","type":"quantitative"},"text":{"value":"M1"}}}]}]},
   {"width":10,"height":55,"data":{"values":[]},"mark":"point"},
   {"width":181,"height":121,"resolve":{"axis":{"x":"independent"}},"layer":[{"data":{"name":"hist"},"transform":[{"filter":"datum.panel === 'B32'"},{"flatten":["lx","n"]}],"mark":{"type":"area","fill":"#c8c8c8","stroke":"black","strokeWidth":1},"encoding":{"x":{"field":"lx","type":"quantitative","scale":{"domain":[0,4],"nice":false},"axis":{"orient":"bottom","title":"PE-CD25","values":[0,1,2,3,4],"labelExpr":"'10' + (datum.value == 0 ? '⁰' : datum.value == 1 ? '¹' : datum.value == 2 ? '²' : datum.value == 3 ? '³' : '⁴')","labelOverlap":false,"labelFlush":false,"tickSize":5,"labelFontSize":12,"titleFontSize":12,"labelPadding":1,"titlePadding":2}},"y":{"field":"n","type":"quantitative","scale":{"domain":[0,128],"nice":false},"axis":{"title":"Events","values":[0,32,64,96,128],"labelExpr":"datum.value === 0 || datum.value === 128 ? datum.label : ''","labelAngle":270,"labelAlign":"center","labelBaseline":"bottom","labelFontSize":11,"titleFontSize":12,"labelPadding":2,"titlePadding":2,"tickSize":3}}}},{"data":{"values":[{"lx":0}]},"mark":{"type":"point","opacity":0},"encoding":{"x":{"field":"lx","type":"quantitative","axis":{"orient":"bottom","values":[0.301,0.477,0.602,0.699,0.778,0.845,0.903,0.954,1.301,1.477,1.602,1.699,1.778,1.845,1.903,1.954,2.301,2.477,2.602,2.699,2.778,2.845,2.903,2.954,3.301,3.477,3.602,3.699,3.778,3.845,3.903,3.954],"labels":false,"domain":false,"title":null,"tickSize":3}}}},{"data":{"name":"gates"},"transform":[{"filter":"datum.panel === 'B32'"}],"layer":[{"mark":{"type":"rule","strokeWidth":1.2,"color":"black"},"encoding":{"x":{"field":"x1","type":"quantitative","axis":null},"x2":{"field":"x2"},"y":{"field":"y","type":"quantitative"}}},{"mark":{"type":"tick","orient":"vertical","size":7,"thickness":1.2,"color":"black"},"encoding":{"x":{"field":"x1","type":"quantitative","axis":null},"y":{"field":"y","type":"quantitative"}}},{"mark":{"type":"tick","orient":"vertical","size":7,"thickness":1.2,"color":"black"},"encoding":{"x":{"field":"x2","type":"quantitative","axis":null},"y":{"field":"y","type":"quantitative"}}},{"mark":{"type":"text","fontSize":26,"fontWeight":"bold","baseline":"alphabetic","color":"black"},"encoding":{"x":{"field":"numX","type":"quantitative","axis":null},"y":{"field":"numY","type":"quantitative"},"text":{"field":"pct","type":"nominal"}}},{"mark":{"type":"text","fontSize":11,"baseline":"alphabetic","color":"black"},"encoding":{"x":{"field":"m1X","type":"quantitative","axis":null},"y":{"field":"m1Y","type":"quantitative"},"text":{"value":"M1"}}}]}]}
  ]},
  {"bounds":"flush","spacing":0,"vconcat":[
   {"width":10,"height":1,"data":{"values":[]},"mark":"point"},
   {"width":196,"height":119,"resolve":{"axis":{"x":"independent"}},"layer":[{"data":{"name":"hist"},"transform":[{"filter":"datum.panel === 'B13'"},{"flatten":["lx","n"]}],"mark":{"type":"area","fill":"#c8c8c8","stroke":"black","strokeWidth":1},"encoding":{"x":{"field":"lx","type":"quantitative","scale":{"domain":[0,4],"nice":false},"axis":{"orient":"bottom","title":"FITC-CD45RB","values":[0,1,2,3,4],"labelExpr":"'10' + (datum.value == 0 ? '⁰' : datum.value == 1 ? '¹' : datum.value == 2 ? '²' : datum.value == 3 ? '³' : '⁴')","labelOverlap":false,"labelFlush":false,"tickSize":5,"labelFontSize":12,"titleFontSize":12,"labelPadding":1,"titlePadding":2}},"y":{"field":"n","type":"quantitative","scale":{"domain":[0,128],"nice":false},"axis":{"title":"Events","values":[0,32,64,96,128],"labelExpr":"datum.value === 0 || datum.value === 128 ? datum.label : ''","labelAngle":270,"labelAlign":"center","labelBaseline":"bottom","labelFontSize":11,"titleFontSize":12,"labelPadding":2,"titlePadding":2,"tickSize":3}}}},{"data":{"values":[{"lx":0}]},"mark":{"type":"point","opacity":0},"encoding":{"x":{"field":"lx","type":"quantitative","axis":{"orient":"bottom","values":[0.301,0.477,0.602,0.699,0.778,0.845,0.903,0.954,1.301,1.477,1.602,1.699,1.778,1.845,1.903,1.954,2.301,2.477,2.602,2.699,2.778,2.845,2.903,2.954,3.301,3.477,3.602,3.699,3.778,3.845,3.903,3.954],"labels":false,"domain":false,"title":null,"tickSize":3}}}},{"data":{"name":"gates"},"transform":[{"filter":"datum.panel === 'B13'"}],"layer":[{"mark":{"type":"rule","strokeWidth":1.2,"color":"black"},"encoding":{"x":{"field":"x1","type":"quantitative","axis":null},"x2":{"field":"x2"},"y":{"field":"y","type":"quantitative"}}},{"mark":{"type":"tick","orient":"vertical","size":7,"thickness":1.2,"color":"black"},"encoding":{"x":{"field":"x1","type":"quantitative","axis":null},"y":{"field":"y","type":"quantitative"}}},{"mark":{"type":"tick","orient":"vertical","size":7,"thickness":1.2,"color":"black"},"encoding":{"x":{"field":"x2","type":"quantitative","axis":null},"y":{"field":"y","type":"quantitative"}}},{"mark":{"type":"text","fontSize":26,"fontWeight":"bold","baseline":"alphabetic","color":"black"},"encoding":{"x":{"field":"numX","type":"quantitative","axis":null},"y":{"field":"numY","type":"quantitative"},"text":{"field":"pct","type":"nominal"}}},{"mark":{"type":"text","fontSize":11,"baseline":"alphabetic","color":"black"},"encoding":{"x":{"field":"m1X","type":"quantitative","axis":null},"y":{"field":"m1Y","type":"quantitative"},"text":{"value":"M1"}}}]}]},
   {"width":10,"height":59,"data":{"values":[]},"mark":"point"},
   {"width":196,"height":119,"resolve":{"axis":{"x":"independent"}},"layer":[{"data":{"name":"hist"},"transform":[{"filter":"datum.panel === 'B23'"},{"flatten":["lx","n"]}],"mark":{"type":"area","fill":"#c8c8c8","stroke":"black","strokeWidth":1},"encoding":{"x":{"field":"lx","type":"quantitative","scale":{"domain":[0,4],"nice":false},"axis":{"orient":"bottom","title":"FITC-CD45RB","values":[0,1,2,3,4],"labelExpr":"'10' + (datum.value == 0 ? '⁰' : datum.value == 1 ? '¹' : datum.value == 2 ? '²' : datum.value == 3 ? '³' : '⁴')","labelOverlap":false,"labelFlush":false,"tickSize":5,"labelFontSize":12,"titleFontSize":12,"labelPadding":1,"titlePadding":2}},"y":{"field":"n","type":"quantitative","scale":{"domain":[0,128],"nice":false},"axis":{"title":"Events","values":[0,32,64,96,128],"labelExpr":"datum.value === 0 || datum.value === 128 ? datum.label : ''","labelAngle":270,"labelAlign":"center","labelBaseline":"bottom","labelFontSize":11,"titleFontSize":12,"labelPadding":2,"titlePadding":2,"tickSize":3}}}},{"data":{"values":[{"lx":0}]},"mark":{"type":"point","opacity":0},"encoding":{"x":{"field":"lx","type":"quantitative","axis":{"orient":"bottom","values":[0.301,0.477,0.602,0.699,0.778,0.845,0.903,0.954,1.301,1.477,1.602,1.699,1.778,1.845,1.903,1.954,2.301,2.477,2.602,2.699,2.778,2.845,2.903,2.954,3.301,3.477,3.602,3.699,3.778,3.845,3.903,3.954],"labels":false,"domain":false,"title":null,"tickSize":3}}}},{"data":{"name":"gates"},"transform":[{"filter":"datum.panel === 'B23'"}],"layer":[{"mark":{"type":"rule","strokeWidth":1.2,"color":"black"},"encoding":{"x":{"field":"x1","type":"quantitative","axis":null},"x2":{"field":"x2"},"y":{"field":"y","type":"quantitative"}}},{"mark":{"type":"tick","orient":"vertical","size":7,"thickness":1.2,"color":"black"},"encoding":{"x":{"field":"x1","type":"quantitative","axis":null},"y":{"field":"y","type":"quantitative"}}},{"mark":{"type":"tick","orient":"vertical","size":7,"thickness":1.2,"color":"black"},"encoding":{"x":{"field":"x2","type":"quantitative","axis":null},"y":{"field":"y","type":"quantitative"}}},{"mark":{"type":"text","fontSize":26,"fontWeight":"bold","baseline":"alphabetic","color":"black"},"encoding":{"x":{"field":"numX","type":"quantitative","axis":null},"y":{"field":"numY","type":"quantitative"},"text":{"field":"pct","type":"nominal"}}},{"mark":{"type":"text","fontSize":11,"baseline":"alphabetic","color":"black"},"encoding":{"x":{"field":"m1X","type":"quantitative","axis":null},"y":{"field":"m1Y","type":"quantitative"},"text":{"value":"M1"}}}]}]},
   {"width":10,"height":58,"data":{"values":[]},"mark":"point"},
   {"width":196,"height":119,"resolve":{"axis":{"x":"independent"}},"layer":[{"data":{"name":"hist"},"transform":[{"filter":"datum.panel === 'B33'"},{"flatten":["lx","n"]}],"mark":{"type":"area","fill":"#c8c8c8","stroke":"black","strokeWidth":1},"encoding":{"x":{"field":"lx","type":"quantitative","scale":{"domain":[0,4],"nice":false},"axis":{"orient":"bottom","title":"FITC-CD45RB","values":[0,1,2,3,4],"labelExpr":"'10' + (datum.value == 0 ? '⁰' : datum.value == 1 ? '¹' : datum.value == 2 ? '²' : datum.value == 3 ? '³' : '⁴')","labelOverlap":false,"labelFlush":false,"tickSize":5,"labelFontSize":12,"titleFontSize":12,"labelPadding":1,"titlePadding":2}},"y":{"field":"n","type":"quantitative","scale":{"domain":[0,128],"nice":false},"axis":{"title":"Events","values":[0,32,64,96,128],"labelExpr":"datum.value === 0 || datum.value === 128 ? datum.label : ''","labelAngle":270,"labelAlign":"center","labelBaseline":"bottom","labelFontSize":11,"titleFontSize":12,"labelPadding":2,"titlePadding":2,"tickSize":3}}}},{"data":{"values":[{"lx":0}]},"mark":{"type":"point","opacity":0},"encoding":{"x":{"field":"lx","type":"quantitative","axis":{"orient":"bottom","values":[0.301,0.477,0.602,0.699,0.778,0.845,0.903,0.954,1.301,1.477,1.602,1.699,1.778,1.845,1.903,1.954,2.301,2.477,2.602,2.699,2.778,2.845,2.903,2.954,3.301,3.477,3.602,3.699,3.778,3.845,3.903,3.954],"labels":false,"domain":false,"title":null,"tickSize":3}}}},{"data":{"name":"gates"},"transform":[{"filter":"datum.panel === 'B33'"}],"layer":[{"mark":{"type":"rule","strokeWidth":1.2,"color":"black"},"encoding":{"x":{"field":"x1","type":"quantitative","axis":null},"x2":{"field":"x2"},"y":{"field":"y","type":"quantitative"}}},{"mark":{"type":"tick","orient":"vertical","size":7,"thickness":1.2,"color":"black"},"encoding":{"x":{"field":"x1","type":"quantitative","axis":null},"y":{"field":"y","type":"quantitative"}}},{"mark":{"type":"tick","orient":"vertical","size":7,"thickness":1.2,"color":"black"},"encoding":{"x":{"field":"x2","type":"quantitative","axis":null},"y":{"field":"y","type":"quantitative"}}},{"mark":{"type":"text","fontSize":26,"fontWeight":"bold","baseline":"alphabetic","color":"black"},"encoding":{"x":{"field":"numX","type":"quantitative","axis":null},"y":{"field":"numY","type":"quantitative"},"text":{"field":"pct","type":"nominal"}}},{"mark":{"type":"text","fontSize":11,"baseline":"alphabetic","color":"black"},"encoding":{"x":{"field":"m1X","type":"quantitative","axis":null},"y":{"field":"m1Y","type":"quantitative"},"text":{"value":"M1"}}}]}]}
  ]}
 ]}
]}
]
}
